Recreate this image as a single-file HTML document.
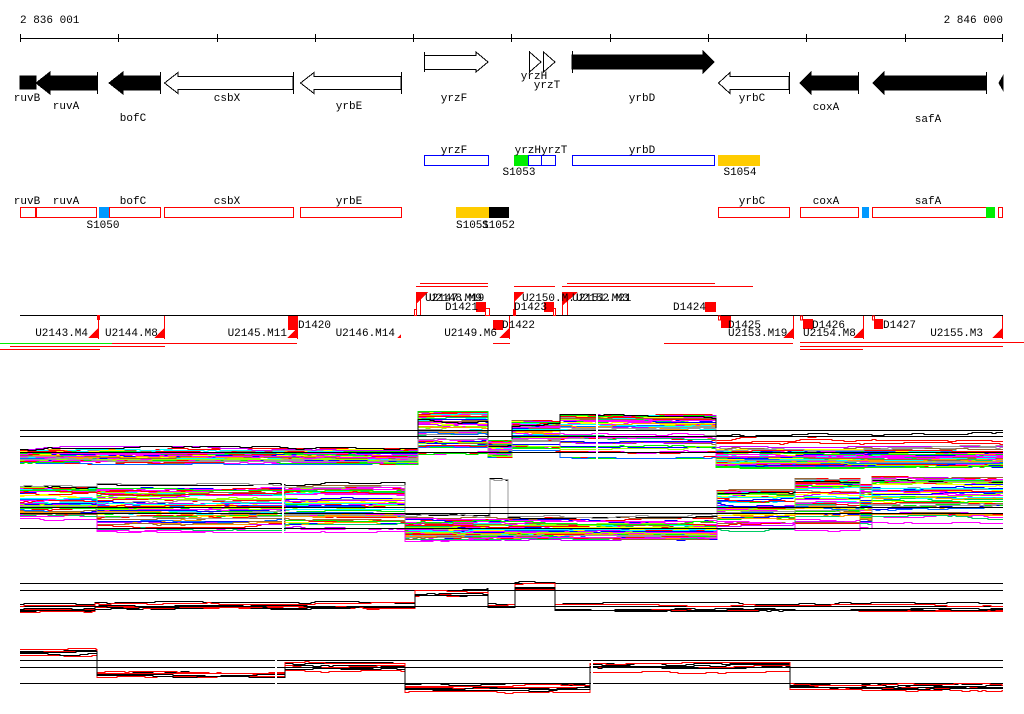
<!DOCTYPE html>
<html><head><meta charset="utf-8"><style>
html,body{margin:0;padding:0;background:#fff;width:1024px;height:714px;overflow:hidden}
svg{display:block}
text{font-family:"Liberation Mono",monospace;font-size:11px;fill:#000}
</style></head><body>
<svg id="s" width="1024" height="714" xmlns="http://www.w3.org/2000/svg" shape-rendering="crispEdges">
<text x="20" y="23">2 836 001</text>
<text x="1003" y="23" text-anchor="end">2 846 000</text>
<line x1="20" y1="38.5" x2="1003" y2="38.5" stroke="#000"/>
<g stroke="#000">
<line x1="20.5" y1="34" x2="20.5" y2="42"/><line x1="118.5" y1="34" x2="118.5" y2="42"/><line x1="217.5" y1="34" x2="217.5" y2="42"/><line x1="315.5" y1="34" x2="315.5" y2="42"/><line x1="413.5" y1="34" x2="413.5" y2="42"/><line x1="511.5" y1="34" x2="511.5" y2="42"/><line x1="610.5" y1="34" x2="610.5" y2="42"/><line x1="708.5" y1="34" x2="708.5" y2="42"/><line x1="806.5" y1="34" x2="806.5" y2="42"/><line x1="905.5" y1="34" x2="905.5" y2="42"/><line x1="1002.5" y1="34" x2="1002.5" y2="42"/>
</g>
<g stroke="#000">
<rect x="20" y="76" width="16" height="13" fill="#000"/>
<polygon points="36,83 50,72 50,76 97,76 97,90 50,90 50,94" fill="#000"/><line x1="97.5" y1="72" x2="97.5" y2="94"/>
<polygon points="109,83 123,72 123,76 160,76 160,90 123,90 123,94" fill="#000"/><line x1="160.5" y1="72" x2="160.5" y2="94"/>
<polygon points="164.5,83 178,72.5 178,76.5 293,76.5 293,89.5 178,89.5 178,93.5" fill="#fff"/><line x1="293.5" y1="72" x2="293.5" y2="94"/>
<polygon points="300.5,83 314,72.5 314,76.5 401,76.5 401,89.5 314,89.5 314,93.5" fill="#fff"/><line x1="401.5" y1="72" x2="401.5" y2="94"/>
<polygon points="424.5,55.5 476,55.5 476,52 488,62 476,72 476,69.5 424.5,69.5" fill="#fff"/><line x1="424.5" y1="52" x2="424.5" y2="72"/>
<polygon points="529.5,52 541,62 529.5,72" fill="#fff"/><line x1="529.5" y1="51" x2="529.5" y2="73"/>
<polygon points="543.5,52 555,62 543.5,72" fill="#fff"/>
<polygon points="572,55 703,55 703,51 714,62 703,73 703,69 572,69" fill="#000"/><line x1="572.5" y1="51" x2="572.5" y2="73"/>
<polygon points="718.5,83 730,72.5 730,76.5 789,76.5 789,89.5 730,89.5 730,93.5" fill="#fff"/><line x1="789.5" y1="72" x2="789.5" y2="94"/>
<polygon points="800,83 811,72 811,76 858,76 858,90 811,90 811,94" fill="#000"/><line x1="858.5" y1="72" x2="858.5" y2="94"/>
<polygon points="873,83 884,72 884,76 986,76 986,90 884,90 884,94" fill="#000"/><line x1="986.5" y1="72" x2="986.5" y2="94"/>
<polygon points="999,83 1003,76 1003,90" fill="#000"/>
</g>
<text x="27" y="101" text-anchor="middle">ruvB</text><text x="66" y="109" text-anchor="middle">ruvA</text><text x="133" y="121" text-anchor="middle">bofC</text><text x="227" y="101" text-anchor="middle">csbX</text><text x="349" y="109" text-anchor="middle">yrbE</text><text x="454" y="101" text-anchor="middle">yrzF</text><text x="534" y="79" text-anchor="middle">yrzH</text><text x="547" y="88" text-anchor="middle">yrzT</text><text x="642" y="101" text-anchor="middle">yrbD</text><text x="752" y="101" text-anchor="middle">yrbC</text><text x="826" y="110" text-anchor="middle">coxA</text><text x="928" y="122" text-anchor="middle">safA</text>
<g fill="none" stroke="#00f">
<rect x="424.5" y="155.5" width="64" height="10"/><rect x="528.5" y="155.5" width="13" height="10"/><rect x="541.5" y="155.5" width="14" height="10"/><rect x="572.5" y="155.5" width="142" height="10"/>
</g>
<rect x="514" y="155" width="14" height="11" fill="#0e0"/><rect x="718" y="155" width="42" height="11" fill="#fc0"/>
<text x="454" y="153" text-anchor="middle">yrzF</text><text x="541" y="153" text-anchor="middle">yrzHyrzT</text><text x="642" y="153" text-anchor="middle">yrbD</text>
<text x="519" y="175" text-anchor="middle">S1053</text><text x="740" y="175" text-anchor="middle">S1054</text>
<g fill="none" stroke="#f00">
<rect x="20.5" y="207.5" width="15" height="10"/><rect x="36.5" y="207.5" width="60" height="10"/><rect x="109.5" y="207.5" width="51" height="10"/><rect x="164.5" y="207.5" width="129" height="10"/><rect x="300.5" y="207.5" width="101" height="10"/><rect x="718.5" y="207.5" width="71" height="10"/><rect x="800.5" y="207.5" width="58" height="10"/><rect x="872.5" y="207.5" width="114" height="10"/><rect x="998.5" y="207.5" width="4" height="10"/>
</g>
<rect x="99" y="207" width="10" height="11" fill="#09f"/><rect x="862" y="207" width="7" height="11" fill="#09f"/><rect x="986" y="207" width="9" height="11" fill="#0e0"/>
<rect x="456" y="207" width="33" height="11" fill="#fc0"/><rect x="489" y="207" width="20" height="11" fill="#000"/>
<text x="27" y="204" text-anchor="middle">ruvB</text><text x="66" y="204" text-anchor="middle">ruvA</text><text x="133" y="204" text-anchor="middle">bofC</text><text x="227" y="204" text-anchor="middle">csbX</text><text x="349" y="204" text-anchor="middle">yrbE</text><text x="752" y="204" text-anchor="middle">yrbC</text><text x="826" y="204" text-anchor="middle">coxA</text><text x="928" y="204" text-anchor="middle">safA</text>
<text x="103" y="228" text-anchor="middle">S1050</text><text x="456" y="228">S1051</text><text x="482" y="228">S1052</text>
<line x1="20" y1="315.5" x2="1003" y2="315.5" stroke="#000"/>
<g stroke="#f00" fill="none">
<line x1="420" y1="283.5" x2="488" y2="283.5"/><line x1="416" y1="286.5" x2="488" y2="286.5"/>
<line x1="514" y1="286.5" x2="555" y2="286.5"/><line x1="567" y1="283.5" x2="715" y2="283.5"/><line x1="562" y1="286.5" x2="753" y2="286.5"/>
<line x1="0" y1="343.5" x2="297" y2="343.5"/><line x1="10" y1="346.5" x2="165" y2="346.5"/><line x1="0" y1="349.5" x2="100" y2="349.5"/>
<line x1="493" y1="343.5" x2="510" y2="343.5"/><line x1="664" y1="343.5" x2="793" y2="343.5"/>
<line x1="800" y1="342.5" x2="1024" y2="342.5"/><line x1="800" y1="346.5" x2="1003" y2="346.5"/><line x1="800" y1="349.5" x2="863" y2="349.5"/>
<line x1="98.5" y1="316" x2="98.5" y2="339"/><rect x="97.5" y="315.5" width="2" height="4"/>
<line x1="164.5" y1="316" x2="164.5" y2="339"/><line x1="297.5" y1="316" x2="297.5" y2="339"/>
<line x1="509.5" y1="316" x2="509.5" y2="339"/><line x1="793.5" y1="316" x2="793.5" y2="339"/><line x1="863.5" y1="316" x2="863.5" y2="339"/><line x1="1002.5" y1="316" x2="1002.5" y2="339"/>
<line x1="416.5" y1="292" x2="416.5" y2="315"/><line x1="420.5" y1="292" x2="420.5" y2="315"/><rect x="414.5" y="309.5" width="2" height="6"/>
<line x1="514.5" y1="292" x2="514.5" y2="315"/><rect x="513.5" y="309.5" width="2" height="6"/><rect x="485.5" y="308.5" width="4" height="7"/><rect x="553.5" y="308.5" width="2" height="7"/>
<line x1="562.5" y1="292" x2="562.5" y2="315"/><line x1="567.5" y1="292" x2="567.5" y2="315"/>
<rect x="718.5" y="316" width="2" height="4"/><rect x="800.5" y="316" width="2" height="4"/><rect x="872.5" y="316" width="2" height="4"/>
</g>
<g fill="#f00">
<rect x="0" y="343" width="112" height="1" fill="#0e0"/>
<polygon points="88,338 98,338 98,328"/><polygon points="154,338 164,338 164,328"/><polygon points="287,338 297,338 297,328"/><polygon points="397,338 401,338 401,334"/><polygon points="499,338 509,338 509,328"/><polygon points="783,338 793,338 793,328"/><polygon points="853,338 863,338 863,328"/><polygon points="992,338 1002,338 1002,328"/>
<rect x="288" y="316" width="9" height="14"/><rect x="493" y="320" width="10" height="10"/><rect x="721" y="316" width="10" height="12"/><rect x="803" y="319" width="10" height="10"/><rect x="874" y="319" width="9" height="10"/>
<polygon points="416,292 428,292 416,304"/><polygon points="514,292 524,292 514,302"/><polygon points="562,292 578,292 562,306"/>
<rect x="476" y="302" width="10" height="10"/><rect x="544" y="302" width="10" height="10"/><rect x="705" y="302" width="11" height="10"/>
</g>
<text x="88" y="336" text-anchor="end">U2143.M4</text><text x="105" y="336">U2144.M8</text><text x="287" y="336" text-anchor="end">U2145.M11</text><text x="395" y="336" text-anchor="end">U2146.M14</text><text x="298" y="328">D1420</text>
<text x="497" y="336" text-anchor="end">U2149.M6</text><text x="502" y="328">D1422</text>
<text x="728" y="328">D1425</text><text x="728" y="336">U2153.M19</text><text x="812" y="328">D1426</text><text x="803" y="336">U2154.M8</text><text x="883" y="328">D1427</text><text x="983" y="336" text-anchor="end">U2155.M3</text>
<text x="425" y="301">U2147.M19</text><text x="429" y="301">U2148.M9</text><text x="445" y="310">D1421</text>
<text x="522" y="301">U2150.M.</text><text x="514" y="310">D1423</text><text x="572" y="301">U2151.M21</text><text x="576" y="301">U2152.M3</text><text x="673" y="310">D1424</text>
<g id="plots"></g>
</svg>
<script>
(function(){
var g=document.getElementById('plots');var ns='http://www.w3.org/2000/svg';
var seed=7;function r(){seed=(seed*16807)%2147483647;return seed/2147483647;}
function ln(x1,y,x2,c){var l=document.createElementNS(ns,'line');l.setAttribute('x1',x1);l.setAttribute('x2',x2);l.setAttribute('y1',y+.5);l.setAttribute('y2',y+.5);l.setAttribute('stroke',c);g.appendChild(l);}
function draw(segs,cols,n,amp){
 for(var i=0;i<n;i++){var c=cols[i%cols.length];var f=r();var d='';var off=0;var first=true;
  for(var s=0;s<segs.length;s++){var S=segs[s];var ff=Math.min(1,Math.max(0,f+(r()-.5)*.2));
   var base=S[2]+(S[3]-S[2])*Math.pow(ff,S[4]||1);
   for(var x=S[0];x<S[1];x+=4){
    if(r()<0.18){off+=(r()<.5?-1:1);if(off>amp)off=amp;if(off<-amp)off=-amp;}
    var y=Math.round(base+off)+.5;
    if(first){d+='M'+x+' '+y;first=false;}else d+='V'+y;
    d+='H'+Math.min(x+4,S[1]);}
  }
  var p=document.createElementNS(ns,'path');p.setAttribute('d',d);p.setAttribute('fill','none');p.setAttribute('stroke',c);g.appendChild(p);}
}
var cols=['#f00','#00f','#0e0','#f0f','#0ff','#f90','#9f0','#999','#963','#f0f','#06f','#f00','#c0f','#ff0','#0c6'];
draw([[20,418,447,462,.6],[418,488,412,452,1.5],[488,512,441,456],[512,560,422,450,1.6],[560,716,416,456,2.2],[716,1003,438,466,.4]],cols,55,2);
draw([[20,97,486,518],[97,285,488,530],[285,405,486,530],[405,717,519,539,.6],[717,795,491,530,1.5],[800,860,480,530,1.5],[860,872,486,528],[872,1003,478,522,1.3]],cols,55,2);
draw([[20,418,446,458],[418,488,412,440],[488,512,442,452],[512,560,420,440],[560,716,413,425],[716,1003,430,450]],['#000','#999'],2,4);
draw([[20,97,482,488],[97,285,478,486],[285,405,480,488],[405,490,512,518],[490,508,477,480],[508,717,512,518],[717,795,488,494],[800,860,478,484],[860,872,486,490],[872,1003,477,482]],['#000','#999'],2,2);
[430,436,452,507,513,528,583,590,606,660,667,683].forEach(function(y){ln(20,y,1003,'#000');});
draw([[20,95,604,612],[95,415,601,609],[415,488,589,596],[488,515,603,607],[515,555,581,590],[555,1003,603,611]],['#000','#f00','#000','#f00','#f00','#000'],7,1);
draw([[20,97,648,656],[97,285,672,678],[285,405,662,671],[405,590,684,692],[590,790,662,672],[790,1003,684,690]],['#000','#f00','#000','#f00','#f00','#000'],7,1);
var w=function(x,y,h){var R=document.createElementNS(ns,'rect');R.setAttribute('x',x);R.setAttribute('y',y);R.setAttribute('width',2);R.setAttribute('height',h);R.setAttribute('fill','#fff');g.appendChild(R);};
w(596,405,60);w(282,470,80);w(275,640,60);w(591,640,60);
})();
</script>
</body></html>
